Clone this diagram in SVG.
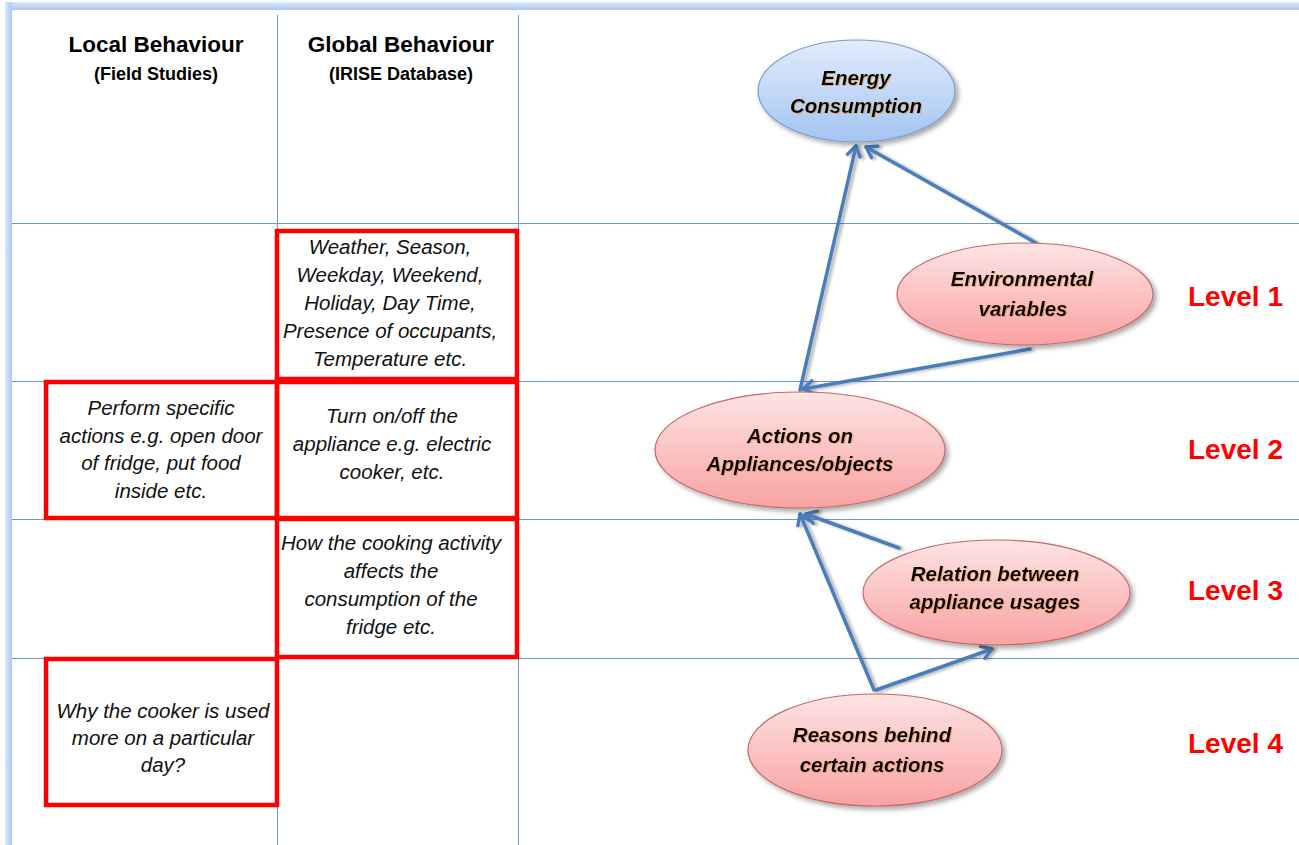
<svg xmlns="http://www.w3.org/2000/svg" width="1299" height="845" viewBox="0 0 1299 845">
<defs>
<style>
.grid{stroke:#7094cc;stroke-width:1;fill:none}
.rbox{fill:none;stroke:#ff0000;stroke-width:4.5}
.hdr{font-family:"Liberation Sans",Arial,sans-serif;font-weight:bold;fill:#000;text-anchor:middle}
.bt{font-family:"Liberation Sans",Arial,sans-serif;font-style:italic;font-size:20.5px;fill:#111;text-anchor:middle}
.nt{font-family:"Liberation Sans",Arial,sans-serif;font-style:italic;font-weight:bold;font-size:20.5px;fill:#000;text-anchor:middle}
.lvl{font-family:"Liberation Sans",Arial,sans-serif;font-weight:bold;font-size:28px;fill:#ff0000}
.conn{stroke:#4a7ebb;stroke-width:3.5;fill:none;stroke-linecap:round}
.pink{fill:url(#gPink);stroke:#c46a6a;stroke-width:1.2}
</style>
<linearGradient id="gBlue" x1="0" y1="0" x2="0" y2="1">
<stop offset="0" stop-color="#e2ecfc"/>
<stop offset="1" stop-color="#a4c4f2"/>
</linearGradient>
<linearGradient id="gPink" x1="0" y1="0" x2="0" y2="1">
<stop offset="0" stop-color="#fde4e4"/>
<stop offset="1" stop-color="#f9a2a2"/>
</linearGradient>
<linearGradient id="gFrameTop" x1="0" y1="0" x2="0" y2="1">
<stop offset="0" stop-color="#dce8fa"/>
<stop offset="1" stop-color="#a9c7f0"/>
</linearGradient>
<linearGradient id="gFrameLeft" x1="0" y1="0" x2="1" y2="0">
<stop offset="0" stop-color="#dce8fa"/>
<stop offset="1" stop-color="#a9c7f0"/>
</linearGradient>
<filter id="sh" x="-20%" y="-20%" width="150%" height="150%">
<feDropShadow dx="3" dy="3" stdDeviation="2.5" flood-color="#000" flood-opacity="0.35"/>
</filter>
<filter id="lsh" x="-20%" y="-20%" width="150%" height="150%">
<feDropShadow dx="3" dy="1" stdDeviation="1.8" flood-color="#000" flood-opacity="0.3"/>
</filter>
<filter id="tsh" x="-10%" y="-30%" width="120%" height="160%">
<feDropShadow dx="0.8" dy="0.8" stdDeviation="0.6" flood-color="#e08a3c" flood-opacity="0.7"/>
</filter>
<marker id="ah" viewBox="-13 -9 16 18" refX="0" refY="0" markerWidth="16" markerHeight="18" markerUnits="userSpaceOnUse" orient="auto">
<path d="M-10,-6.5 L0,0 L-10,6.5" fill="none" stroke="#4a7ebb" stroke-width="3.5" stroke-linecap="round" stroke-linejoin="round"/>
</marker>
</defs>

<rect x="0" y="0" width="1299" height="845" fill="#ffffff"/>

<g id="frame">
<rect x="5" y="2" width="1294" height="8" fill="url(#gFrameTop)"/>
<rect x="5" y="2" width="7" height="843" fill="url(#gFrameLeft)"/>
</g>

<g id="grid">
<line class="grid" x1="277.5" y1="15" x2="277.5" y2="845"/>
<line class="grid" x1="518.5" y1="15" x2="518.5" y2="845"/>
<line class="grid" x1="12" y1="223.5" x2="1299" y2="223.5"/>
<line class="grid" x1="12" y1="381.5" x2="1299" y2="381.5"/>
<line class="grid" x1="12" y1="519.5" x2="1299" y2="519.5"/>
<line class="grid" x1="12" y1="658.5" x2="1299" y2="658.5"/>
</g>

<g id="headers">
<text class="hdr" x="156" y="52" font-size="22.5">Local Behaviour</text>
<text class="hdr" x="156" y="80" font-size="18">(Field Studies)</text>
<text class="hdr" x="401" y="52" font-size="22.5">Global Behaviour</text>
<text class="hdr" x="401" y="80" font-size="18">(IRISE Database)</text>
</g>

<g id="box-global-1">
<rect class="rbox" x="277" y="231" width="240" height="148"/>
<text class="bt" x="390" y="254">Weather, Season,</text>
<text class="bt" x="390" y="282">Weekday, Weekend,</text>
<text class="bt" x="390" y="310">Holiday, Day Time,</text>
<text class="bt" x="390" y="338">Presence of occupants,</text>
<text class="bt" x="390" y="366">Temperature etc.</text>
</g>

<g id="box-global-2">
<rect class="rbox" x="277" y="382" width="240" height="136"/>
<text class="bt" x="392" y="423">Turn on/off the</text>
<text class="bt" x="392" y="451">appliance e.g. electric</text>
<text class="bt" x="392" y="479">cooker, etc.</text>
</g>

<g id="box-global-3">
<rect class="rbox" x="277" y="519" width="240" height="138"/>
<text class="bt" x="391" y="550">How the cooking activity</text>
<text class="bt" x="391" y="578">affects the</text>
<text class="bt" x="391" y="606">consumption of the</text>
<text class="bt" x="391" y="634">fridge etc.</text>
</g>

<g id="box-local-2">
<rect class="rbox" x="46" y="382" width="231" height="136"/>
<text class="bt" x="161" y="415">Perform specific</text>
<text class="bt" x="161" y="443">actions e.g. open door</text>
<text class="bt" x="161" y="470">of fridge, put food</text>
<text class="bt" x="161" y="498">inside etc.</text>
</g>

<g id="box-local-4">
<rect class="rbox" x="46" y="659" width="231" height="146"/>
<text class="bt" x="163" y="718">Why the cooker is used</text>
<text class="bt" x="163" y="745">more on a particular</text>
<text class="bt" x="163" y="772">day?</text>
</g>

<g id="connectors" filter="url(#lsh)">
<line class="conn" x1="800" y1="390" x2="856" y2="146" marker-end="url(#ah)"/>
<line class="conn" x1="1036" y1="243" x2="866" y2="147" marker-end="url(#ah)"/>
<line class="conn" x1="1030" y1="349" x2="803" y2="389" marker-end="url(#ah)"/>
<line class="conn" x1="874" y1="690" x2="800" y2="514" marker-end="url(#ah)"/>
<line class="conn" x1="899" y1="548" x2="806" y2="514" marker-end="url(#ah)"/>
<line class="conn" x1="876" y1="690" x2="992" y2="649" marker-end="url(#ah)"/>
</g>

<g id="node-energy">
<ellipse cx="856.5" cy="91" rx="98.5" ry="51" fill="url(#gBlue)" stroke="#7b9bd0" stroke-width="1.2" filter="url(#sh)"/>
<g filter="url(#tsh)">
<text class="nt" x="856" y="85">Energy</text>
<text class="nt" x="856" y="113">Consumption</text>
</g>
</g>

<g id="node-environmental">
<ellipse class="pink" cx="1025" cy="294" rx="128" ry="51" filter="url(#sh)"/>
<g filter="url(#tsh)">
<text class="nt" x="1022" y="286">Environmental</text>
<text class="nt" x="1023" y="316">variables</text>
</g>
</g>

<g id="node-actions">
<ellipse class="pink" cx="800" cy="450" rx="145" ry="58" filter="url(#sh)"/>
<g filter="url(#tsh)">
<text class="nt" x="800" y="443">Actions on</text>
<text class="nt" x="800" y="471">Appliances/objects</text>
</g>
</g>

<g id="node-relation">
<ellipse class="pink" cx="996.5" cy="592.5" rx="133.5" ry="52.5" filter="url(#sh)"/>
<g filter="url(#tsh)">
<text class="nt" x="995" y="581">Relation between</text>
<text class="nt" x="995" y="609">appliance usages</text>
</g>
</g>

<g id="node-reasons">
<ellipse class="pink" cx="875" cy="750" rx="127" ry="56" filter="url(#sh)"/>
<g filter="url(#tsh)">
<text class="nt" x="872" y="742">Reasons behind</text>
<text class="nt" x="872" y="772">certain actions</text>
</g>
</g>

<g id="levels">
<text class="lvl" x="1188" y="306">Level 1</text>
<text class="lvl" x="1188" y="459">Level 2</text>
<text class="lvl" x="1188" y="600">Level 3</text>
<text class="lvl" x="1188" y="753">Level 4</text>
</g>
</svg>
